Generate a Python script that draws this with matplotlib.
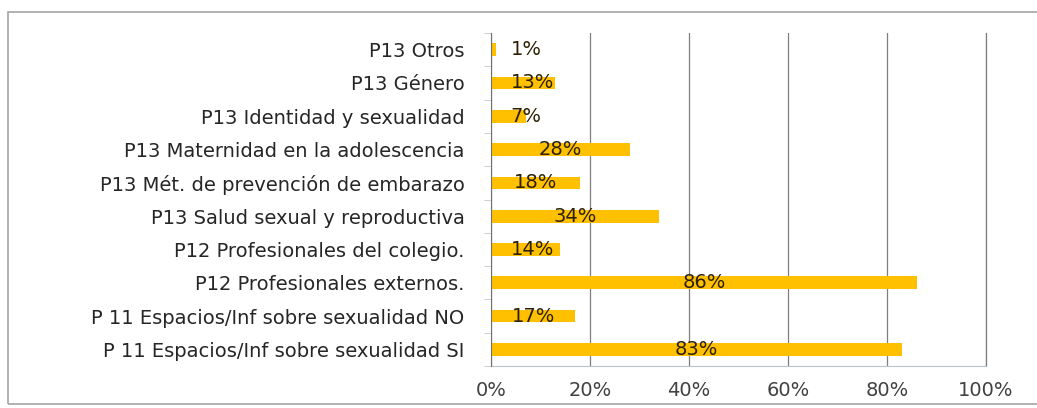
import matplotlib.pyplot as plt
from matplotlib.patches import Rectangle
from matplotlib.ticker import FixedLocator

plt.rcParams['font.family'] = ['DejaVu Sans']

categories = [
    'P 11 Espacios/Inf sobre sexualidad SI',
    'P 11 Espacios/Inf sobre sexualidad NO',
    'P12 Profesionales externos.',
    'P12 Profesionales del colegio.',
    'P13 Salud sexual y reproductiva',
    'P13 Mét. de prevención de embarazo',
    'P13 Maternidad en la adolescencia',
    'P13 Identidad y sexualidad',
    'P13 Género',
    'P13 Otros',
]
values = [83, 17, 86, 14, 34, 18, 28, 7, 13, 1]
labels = ['83%', '17%', '86%', '14%', '34%', '18%', '28%', '7%', '13%', '1%']
xticks = [0, 20, 40, 60, 80, 100]

fig = plt.figure(figsize=(10.37, 4.08), dpi=100)
ax = fig.add_axes([0.4735, 0.1029, 0.4773, 0.8161])

# outer frame of the chart (right edge runs off the picture, as in the source)
fig.patches.append(Rectangle((8 / 1037, 4 / 408), 1040 / 1037, 392 / 408,
                             transform=fig.transFigure, fill=False,
                             edgecolor='#a6a6a6', linewidth=1.2))

y = list(range(len(categories)))
ax.barh(y, values, height=0.38, color='#FFC000', zorder=3)

ax.set_xlim(0, 100)
ax.set_ylim(-0.5, len(categories) - 0.5)
ax.set_xticks(xticks)
ax.set_xticklabels([f'{t}%' for t in xticks])
ax.set_yticks(y)
ax.set_yticklabels(categories)
ax.yaxis.set_minor_locator(FixedLocator([i - 0.5 for i in range(len(categories) + 1)]))

ax.tick_params(axis='y', which='major', length=0, pad=19, labelsize=14, labelcolor='#262626')
ax.tick_params(axis='y', which='minor', length=5, color='#c8c8c8', direction='out')
ax.tick_params(axis='x', length=0, pad=11, labelsize=14, labelcolor='#404040')

ax.grid(axis='x', color='#7f7f7f', linewidth=0.9, zorder=1)
ax.spines['top'].set_visible(False)
ax.spines['right'].set_color('#7f7f7f')
ax.spines['right'].set_linewidth(0.9)
ax.spines['left'].set_color('#707070')
ax.spines['bottom'].set_color('#b9c3d0')
ax.spines['left'].set_zorder(4)

fig.canvas.draw()
renderer = fig.canvas.get_renderer()
min_left = ax.transData.transform((4, 0))[0]
for yi, v, lab in zip(y, values, labels):
    t = ax.text(v / 2, yi, lab, ha='center', va='center', fontsize=14,
                color='#2b2000', zorder=5)
    bb = t.get_window_extent(renderer)
    if bb.x0 < min_left:
        t.set_ha('left')
        t.set_x(4)

fig.savefig('out.png', dpi=100)
